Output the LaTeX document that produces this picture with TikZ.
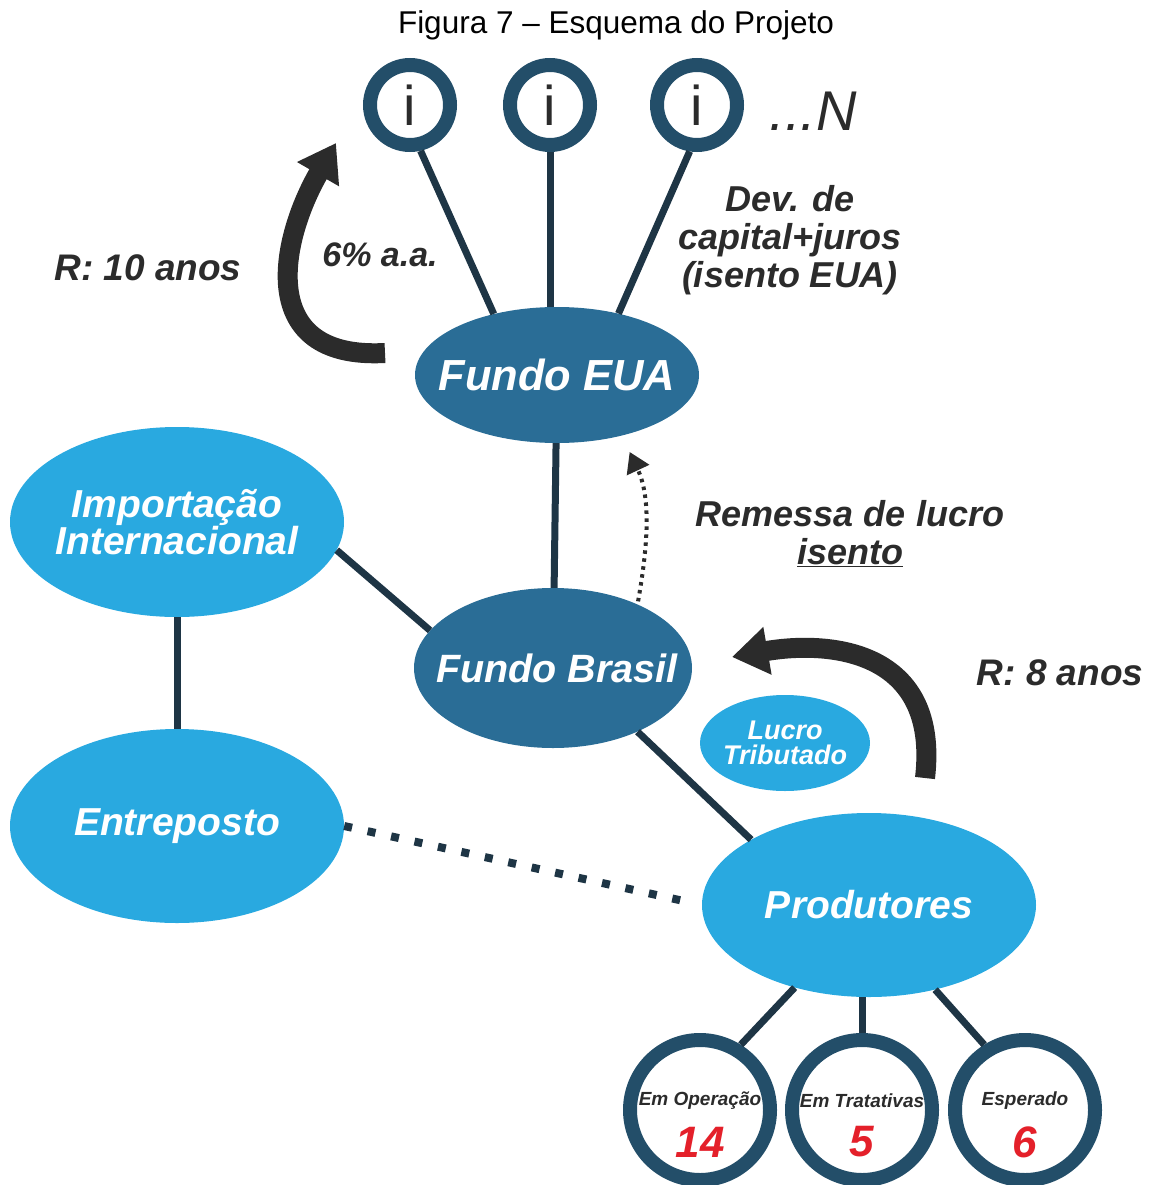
\documentclass[tikz,border=0pt]{standalone}
\usepackage{fontspec}
\setmainfont{Liberation Sans}
\usepackage{xcolor}
\usetikzlibrary{arrows.meta,calc,positioning,shapes.geometric}
\definecolor{anel}{HTML}{234E69}
\definecolor{traco}{HTML}{1E3545}
\definecolor{fundo}{HTML}{2A6D96}
\definecolor{claro}{HTML}{29A9E0}
\definecolor{escuro}{HTML}{2B2B2B}
\definecolor{vermelho}{HTML}{E4202A}

\begin{document}
\begin{tikzpicture}[x=1pt,y=-1pt,
                    letra/.style 2 args={font=\bfseries\itshape\fontsize{#1}{#2}\selectfont},
                    elipse/.style n args={3}{ellipse,fill=#1,minimum width=#2,minimum height=#3,inner sep=0pt},
                    dentro/.style={text=white,align=center},
                    anelbox/.style={circle,draw=anel,line width=14pt,fill=white,inner sep=0pt,minimum size=#1},
                    liga/.style={draw=traco,line width=7pt},
                    rotulo/.style={text=escuro,align=center},
                    seta/.style={draw=escuro,line width=20pt,-{Triangle[length=36pt,width=46pt]}}]
                    \useasboundingbox (0,0) rectangle (1154,1185);
                    \node[font=\fontsize{31.5}{31.5}\selectfont] (titulo) at (616,25) {Figura 7 – Esquema do Projeto};
                    % investidores
                    \foreach \n \x in {1/410,2/550,3/697}
                    \node[anelbox=80pt,text=escuro,font=\fontsize{56}{56}\selectfont] (i\n) at (\x,105) {i};
                    \node[rotulo,anchor=west,font=\itshape\fontsize{56}{56}\selectfont] (enes) at (766,111) {...N};
                    % fundos
                    \node[elipse={fundo}{284pt}{136pt}] (eua) at (557,375) {};
                    \node[elipse={fundo}{278pt}{160pt}] (brasil) at (553,668) {};
                    \node[elipse={claro}{334pt}{190pt}] (imp) at (177,522) {};
                    \node[elipse={claro}{334pt}{194pt}] (ent) at (177,826) {};
                    \node[elipse={claro}{334pt}{184pt}] (prod) at (869,905) {};
                    \node[elipse={claro}{170pt}{96pt}] (lucro) at (785,743) {};
                    \node[dentro,letra={43.5}{43.5}] (euatxt) at (557,375) {Fundo EUA};
                    \node[dentro,letra={39.5}{39.5}] (brasiltxt) at (557,668) {Fundo Brasil};
                    \node[dentro,letra={39}{35}] (imptxt) at (177,522) {Importação\\Internacional};
                    \node[dentro,letra={39}{39}] (enttxt) at (177,826) {Entreposto};
                    \node[dentro,letra={39}{39}] (prodtxt) at (869,905) {Produtores};
                    \node[dentro,letra={27}{25}] (lucrotxt) at (785,743) {Lucro\\Tributado};
                    % produtores
                    \foreach \n \x \t \v in {1/700/{Em Operação}/14,2/862/{Em Tratativas}/5,3/1025/Esperado/6} {
                    \node[anelbox=140pt] (c\n) at (\x,1110) {};
                    \node[rotulo,letra={19}{19}] (c\n t) at ([yshift=9pt]c\n) {\t};
                    \node[text=vermelho,letra={44}{44}] (c\n v) at ([yshift=-32pt]c\n) {\v};
                    }
                    % ligacoes
                    \draw[liga] (i1.-77)--(eua.136);
                    \draw[liga] (i2.south)--(i2.south |- eua.north);
                    \draw[liga] (i3.-99)--(eua.45);
                    \draw[liga] (eua)--(brasil);
                    \draw[liga] (imp.-10)--(brasil.163);
                    \draw[liga] (imp)--(ent);
                    \draw[liga] (brasil.-37)--(prod.151);
                    \draw[liga,line width=8pt,dash pattern=on 8pt off 16pt,shorten >=12pt] (ent.east)--(prod.west);
                    \draw[liga] (prod.-132)--(c1.58);
                    \draw[liga] (c2.north)--(c2.north |- prod.south);
                    \draw[liga] (prod.-52)--(c3.122);
                    % retornos
                    \coordinate (s10a) at (385,353);
                    \coordinate (s10b) at (336,143);
                    \draw[seta] (s10a) .. controls (255,360) and (280,240) .. (s10b);
                    \coordinate (s8a) at (925,778);
                    \coordinate (s8b) at (732,657);
                    \draw[seta] (s8a) .. controls (940,650) and (830,640) .. (s8b);
                    \draw[draw=escuro,line width=4pt,dash pattern=on 3.5pt off 4.5pt,shorten <=3pt,shorten >=18pt,-{Triangle[length=20pt,width=24pt]}] (brasil.37) to[out=80,in=-65] (eua.-43);
                    % textos
                    \node[rotulo,letra={37}{37}] (r10) at (148,268) {R: 10 anos};
                    \node[rotulo,letra={34}{34}] (taxa) at (380,255) {6\% a.a.};
                    \node[rotulo,letra={36}{38}] (dev) at (790,240) {Dev. de\\capital+juros\\(isento EUA)};
                    \node[rotulo,letra={36}{38}] (remessa) at (850,534) {Remessa de lucro\\\underline{isento}};
                    \node[rotulo,letra={37}{37}] (r8) at (1060,673) {R: 8 anos};
                \end{tikzpicture}
\end{document}
